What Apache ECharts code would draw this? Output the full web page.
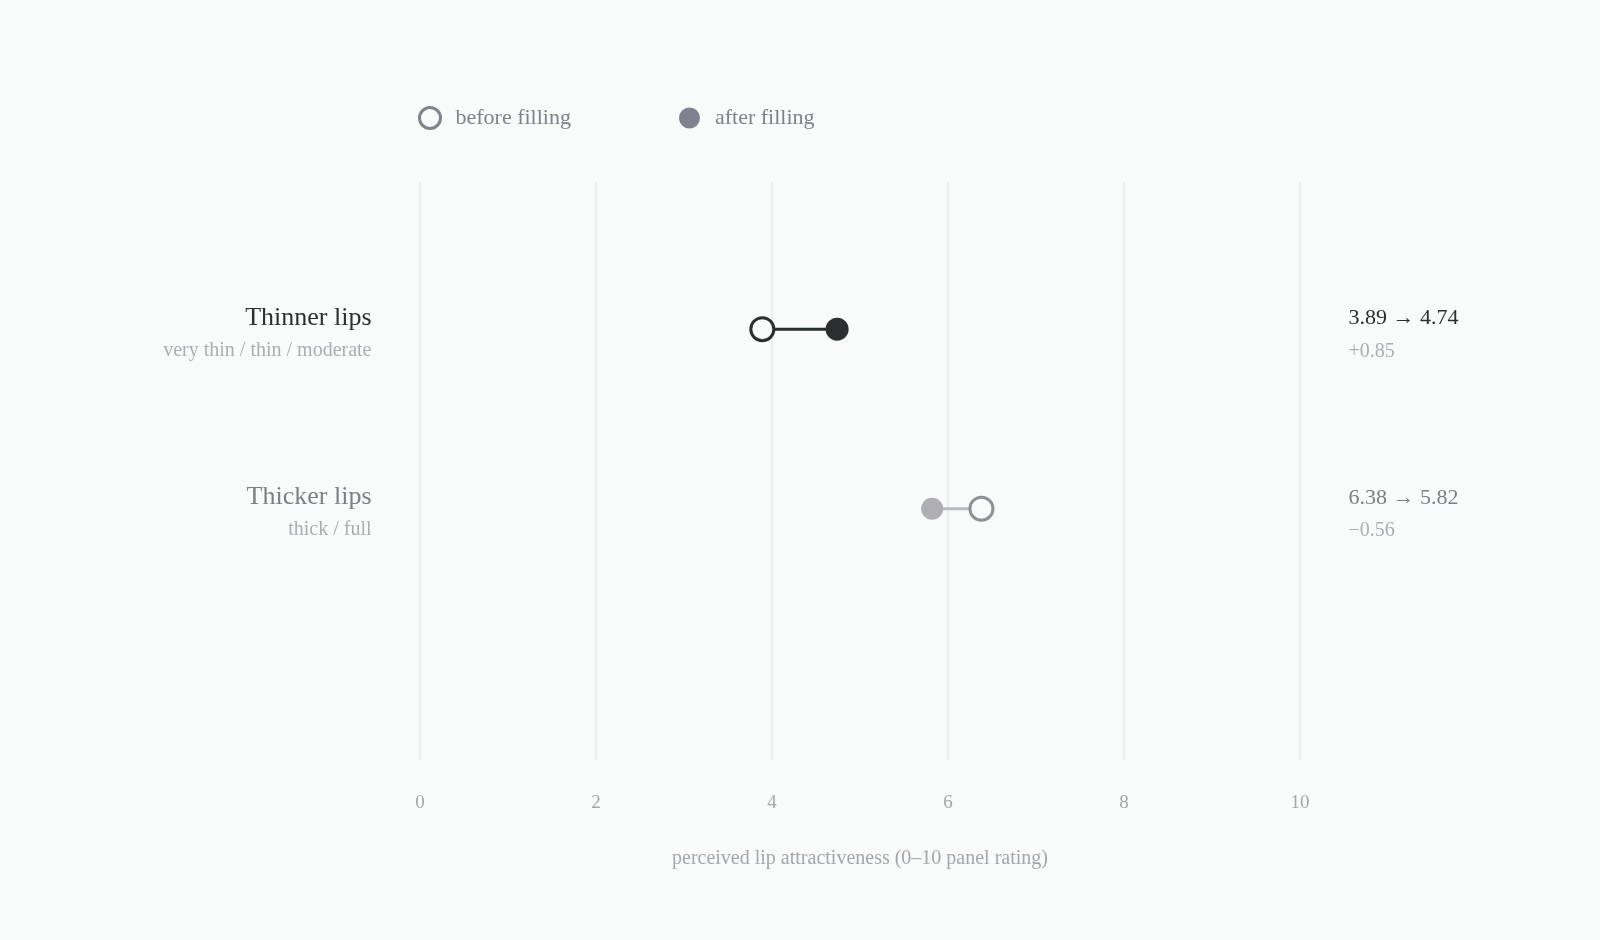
<!DOCTYPE html>
<html>
<head>
<meta charset="utf-8">
<script src="https://cdn.jsdelivr.net/npm/echarts@6/dist/echarts.min.js"></script>
<style>
html,body{margin:0;padding:0;background:#f9fafa;}
#chart{width:1600px;height:940px;}
</style>
</head>
<body>
<div id="chart"></div>
<script>
// ---- data ----
const categories = ['Thinner lips', 'Thicker lips'];
const subtitles = ['very thin / thin / moderate', 'thick / full'];
const beforeValues = [3.89, 6.38];
const afterValues = [4.74, 5.82];
const xTickMin = 0, xTickMax = 10, xTickStep = 2;
const xAxisTitle = 'perceived lip attractiveness (0\u201310 panel rating)';
const legendNames = ['before filling', 'after filling'];

// ---- styles ----
const BG = '#f9fafa';
const FONT = "'Liberation Serif', 'Times New Roman', serif";
const rowStyle = [
  { title: '#2a2f30', sub: '#a9afb1', ring: '#2a2f30', dot: '#2a2f30', line: '#2a2f30' },
  { title: '#7b8083', sub: '#a9afb1', ring: '#8e9093', dot: '#aeaeb3', line: '#b9babd' }
];

function fmtDelta(d) {
  const s = Math.abs(d).toFixed(2);
  return (d >= 0 ? '+' : '\u2212') + s;
}

const series = [];
categories.forEach((c, i) => {
  series.push({
    type: 'line', silent: true, symbol: 'none', z: 1,
    data: [[beforeValues[i], i], [afterValues[i], i]],
    lineStyle: { color: rowStyle[i].line, width: 3, opacity: 1 }
  });
});
series.push({
  name: legendNames[0], type: 'scatter', z: 3, symbol: 'circle',
  itemStyle: { color: BG, borderColor: '#80848c', borderWidth: 3, opacity: 1 },
  data: beforeValues.map((v, i) => ({
    value: [v, i], symbolSize: 23,
    itemStyle: { color: BG, borderColor: rowStyle[i].ring, borderWidth: 3, opacity: 1 }
  }))
});
series.push({
  name: legendNames[1], type: 'scatter', z: 3, symbol: 'circle',
  itemStyle: { color: '#80838e', opacity: 1 },
  data: afterValues.map((v, i) => ({
    value: [v, i], symbolSize: i === 0 ? 23 : 22,
    itemStyle: { color: rowStyle[i].dot, opacity: 1 }
  }))
});
// left category labels
series.push({
  type: 'scatter', silent: true, symbolSize: 1, z: 2,
  itemStyle: { color: 'rgba(0,0,0,0)', opacity: 1 },
  data: categories.map((c, i) => ({
    value: [xTickMin, i],
    label: {
      show: true, position: 'left', distance: 48, offset: [0, 5], align: 'right', opacity: 1,
      formatter: '{t|' + c + '}\n{s|' + subtitles[i] + '}',
      rich: {
        t: { fontFamily: FONT, fontSize: 26, color: rowStyle[i].title, lineHeight: 33, align: 'right' },
        s: { fontFamily: FONT, fontSize: 20, color: rowStyle[i].sub, lineHeight: 33, align: 'right' }
      }
    }
  }))
});
// right value labels
series.push({
  type: 'scatter', silent: true, symbolSize: 1, z: 2,
  itemStyle: { color: 'rgba(0,0,0,0)', opacity: 1 },
  data: categories.map((c, i) => ({
    value: [xTickMax, i],
    label: {
      show: true, position: 'right', distance: 48, offset: [0, 6], align: 'left', opacity: 1,
      formatter: '{t|' + beforeValues[i].toFixed(2) + ' \u2192 ' + afterValues[i].toFixed(2) + '}\n{s|' + fmtDelta(afterValues[i] - beforeValues[i]) + '}',
      rich: {
        t: { fontFamily: FONT, fontSize: 22, color: rowStyle[i].title, lineHeight: 33, align: 'left' },
        s: { fontFamily: FONT, fontSize: 20, color: rowStyle[i].sub, lineHeight: 33, align: 'left' }
      }
    }
  }))
});

const chart = echarts.init(document.getElementById('chart'));
chart.setOption({
  backgroundColor: BG,
  animation: false,
  textStyle: { fontFamily: FONT },
  legend: {
    left: 413, top: 101, itemWidth: 21, itemHeight: 21, itemGap: 108,
    selectedMode: false,
    textStyle: { fontFamily: FONT, fontSize: 22, color: '#7d8188', padding: [0, 0, 0, 10] },
    data: [
      { name: legendNames[0], icon: 'circle', itemStyle: { color: BG, borderColor: '#80848c', borderWidth: 3, opacity: 1 } },
      { name: legendNames[1], icon: 'circle', itemStyle: { color: '#80838e', borderWidth: 0, opacity: 1 } }
    ]
  },
  grid: { left: 420, right: 300, top: 182, bottom: 180 },
  xAxis: {
    type: 'value', min: xTickMin, max: xTickMax, interval: xTickStep,
    axisLine: { show: false }, axisTick: { show: false },
    splitLine: { show: true, lineStyle: { color: '#eceeee', width: 2 } },
    axisLabel: { fontFamily: FONT, fontSize: 19, color: '#a0a8aa', margin: 34 },
    name: xAxisTitle, nameLocation: 'middle', nameGap: 89,
    nameTextStyle: { fontFamily: FONT, fontSize: 20, color: '#a0a8aa' }
  },
  yAxis: {
    type: 'value', inverse: true, min: -0.82, max: 2.4,
    show: false, splitLine: { show: false }
  },
  series: series
});
</script>
</body>
</html>
